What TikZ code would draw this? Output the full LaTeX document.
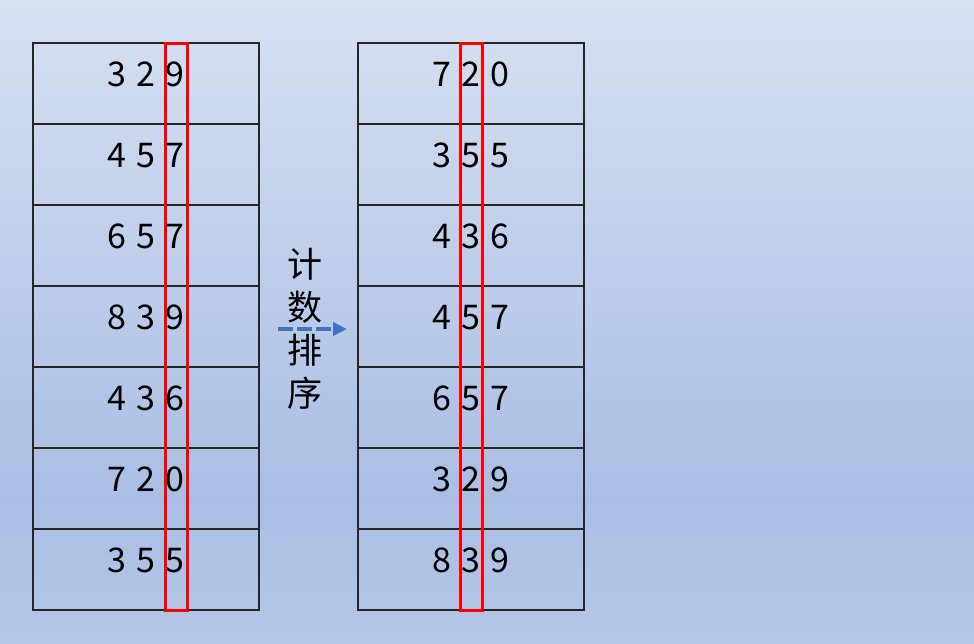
\documentclass[tikz,border=0pt]{standalone}
\usepackage{fontspec}
\newfontfamily\cjk{Noto Sans CJK SC}
\usetikzlibrary{arrows.meta}
\definecolor{bgtop}{RGB}{214,224,241}
\definecolor{bgmid}{RGB}{170,190,228}
\definecolor{bgbot}{RGB}{182,199,232}
\definecolor{arrowblue}{RGB}{68,114,196}
\tikzset{
  cell/.style={draw=black!85, line width=1.6pt, minimum width=226pt, minimum height=81pt, inner sep=0pt},
  digits/.style={anchor=base, inner sep=0pt, font=\cjk\fontsize{34}{40}\selectfont},
  redbox/.style={draw=red, line width=3pt, minimum width=22pt, minimum height=567pt, inner sep=0pt},
  hanzi/.style={inner sep=0pt, font=\cjk\fontsize{35}{43}\selectfont, align=center},
  dasharrow/.style={arrowblue, line width=4pt, dash pattern=on 15pt off 4pt, -{Triangle[length=14pt,width=13pt]}}
}
\begin{document}
\begin{tikzpicture}[x=1pt,y=-1pt]
\useasboundingbox (0,0) rectangle (974,643);
\shade[top color=bgtop, bottom color=bgmid] (0,0) rectangle (974,500);
\shade[top color=bgmid, bottom color=bgbot] (0,500) rectangle (974,643);
% left table
\foreach \val [count=\k] in {3 2 9,4 5 7,6 5 7,8 3 9,4 3 6,7 2 0,3 5 5}{
  \pgfmathsetmacro{\yc}{43+81*(\k-1)+40.5}
  \pgfmathsetmacro{\yb}{43+81*(\k-1)+43}
  \node[cell] (L\k) at (146,\yc) {};
  \node[digits] (LT\k) at (146,\yb) {\spaceskip=10pt\relax\val};
}
% right table
\foreach \val [count=\k] in {7 2 0,3 5 5,4 3 6,4 5 7,6 5 7,3 2 9,8 3 9}{
  \pgfmathsetmacro{\yc}{43+81*(\k-1)+40.5}
  \pgfmathsetmacro{\yb}{43+81*(\k-1)+43}
  \node[cell] (R\k) at (471,\yc) {};
  \node[digits] (RT\k) at (471,\yb) {\spaceskip=10pt\relax\val};
}
\node[redbox] (LR) at (176.5,326.5) {};
\node[redbox] (RR) at (471,326.5) {};
% label and arrow
\node[hanzi] (lab) at (305,329) {计\\数\\排\\序};
\coordinate (as) at (278,329);
\coordinate (ae) at (347,329);
\draw[dasharrow] (as) -- (ae);
\end{tikzpicture}
\end{document}
